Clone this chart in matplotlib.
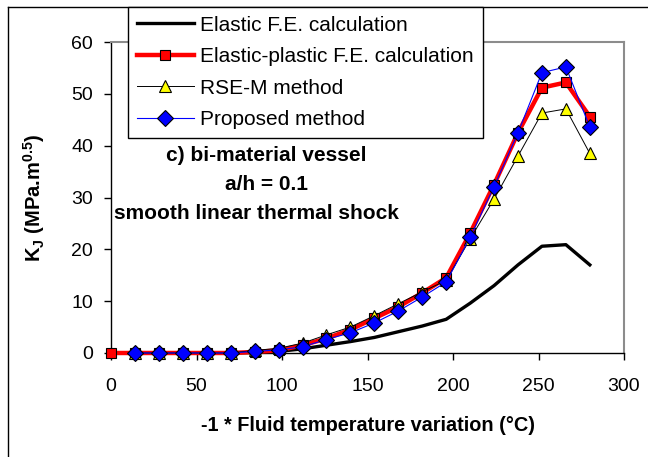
import matplotlib
matplotlib.use("Agg")
import matplotlib.pyplot as plt
from matplotlib.lines import Line2D

plt.rcParams["font.family"] = ["Liberation Sans", "DejaVu Sans"]

# -1 * fluid temperature variation (degC)
temp = [0, 14, 28, 42, 56, 70, 84, 98, 112, 126, 140, 154, 168, 182, 196,
        210, 224, 238, 252, 266, 280]

k_elastic = [0, 0, 0, 0, 0, 0, 0.1, 0.3, 0.8, 1.5, 2.2, 3.0, 4.1, 5.2, 6.5,
             9.6, 13.0, 17.0, 20.6, 20.9, 17.0]
k_elastic_plastic = [0, 0, 0, 0, 0, 0, 0.2, 0.5, 1.5, 2.8, 4.5, 6.7, 8.9, 11.6, 14.5,
                     23.1, 32.5, 42.5, 51.2, 52.2, 45.6]
# RSE-M and proposed method start at 14 degC
temp_methods = temp[1:]
k_rsem = [0, 0, 0, 0, 0, 0.5, 0.9, 1.9, 3.5, 5.0, 7.2, 9.5, 11.8, 14.0,
          22.0, 29.7, 38.0, 46.3, 47.1, 38.5]
k_proposed = [0, 0, 0, 0, 0, 0.3, 0.6, 1.2, 2.6, 3.9, 5.8, 8.1, 10.8, 13.7,
              22.3, 32.1, 42.5, 54.1, 55.2, 43.6]

fig = plt.figure(figsize=(6.48, 4.57), dpi=100)
ax = fig.add_axes([0.1713, 0.2276, 0.963 - 0.1713, 0.908 - 0.2276])

ax.plot(temp, k_elastic, color="black", lw=2.4, label="Elastic F.E. calculation",
        clip_on=False, zorder=3)
ax.plot(temp, k_elastic_plastic, color="red", lw=3.2, marker="s", ms=7,
        mfc="red", mec="black", mew=0.8, label="Elastic-plastic F.E. calculation",
        clip_on=False, zorder=4)
ax.plot(temp_methods, k_rsem, color="black", lw=0.7, marker="^", ms=8.5,
        mfc="yellow", mec="black", mew=0.8, label="RSE-M method",
        clip_on=False, zorder=5)
ax.plot(temp_methods, k_proposed, color="blue", lw=0.8, marker="D", ms=8,
        mfc="blue", mec="black", mew=0.8, label="Proposed method",
        clip_on=False, zorder=6)

ax.set_xlim(0, 300)
ax.set_ylim(0, 60)
ax.set_xticks(range(0, 301, 50))
ax.set_yticks(range(0, 61, 10))
ax.tick_params(labelsize=14, direction="out", length=5, width=1)
ax.tick_params(axis="x", pad=13)
ax.tick_params(axis="y", pad=8)

for side in ["top", "right"]:
    ax.spines[side].set_color("#8c8c8c")
    ax.spines[side].set_linewidth(1.5)
for side in ["left", "bottom"]:
    ax.spines[side].set_linewidth(1)

ax.set_xlabel("-1 * Fluid temperature variation (°C)", fontsize=14.3,
              fontweight="bold", labelpad=15)
ax.set_ylabel(r"K$_\mathregular{J}$ (MPa.m$^\mathregular{0.5}$)", fontsize=14.5,
              fontweight="bold", labelpad=17)

ax.text(91, 38.2, "c) bi-material vessel", ha="center", va="center",
        fontsize=15, fontweight="bold")
ax.text(91, 32.6, "a/h = 0.1", ha="center", va="center",
        fontsize=15, fontweight="bold")
ax.text(85, 27.0, "smooth linear thermal shock", ha="center", va="center",
        fontsize=15, fontweight="bold")

leg = fig.legend(loc="upper left", bbox_to_anchor=(128 / 648, 1 - 7 / 457),
                 fontsize=15, frameon=True, fancybox=False, framealpha=1,
                 edgecolor="black", handlelength=2.75, handletextpad=0.3,
                 labelspacing=0.6, borderpad=0.42, borderaxespad=0)
leg.get_frame().set_linewidth(1)
leg.set_zorder(10)

# outer frame lines of the original chart
fig.add_artist(Line2D([8 / 648, 8 / 648], [0, 1 - 7 / 457], color="black", lw=1))
fig.add_artist(Line2D([8 / 648, 1], [1 - 7 / 457, 1 - 7 / 457], color="black", lw=1))

fig.savefig("out.png", dpi=100)
